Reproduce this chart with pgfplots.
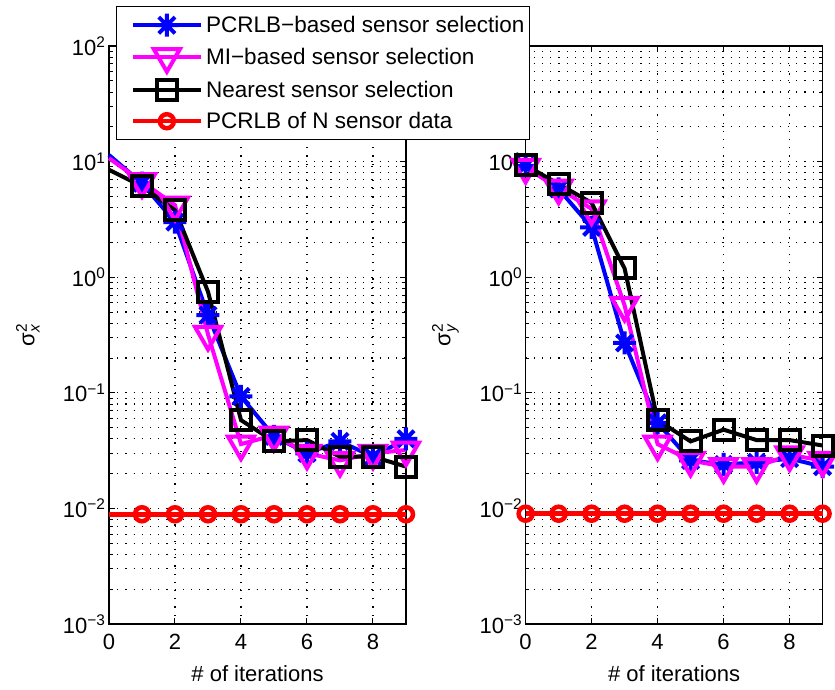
\documentclass[border=0pt]{standalone}
\usepackage{pgfplots}
\pgfplotsset{compat=1.18}
\usepackage{fontspec}
\setmainfont{Liberation Sans}
\usepackage{amsmath}
\usetikzlibrary{plotmarks}
\pgfdeclareplotmark{mstar}{%
 \pgfpathmoveto{\pgfqpoint{0pt}{\pgfplotmarksize}}\pgfpathlineto{\pgfqpoint{0pt}{-\pgfplotmarksize}}%
 \pgfpathmoveto{\pgfqpoint{\pgfplotmarksize}{0pt}}\pgfpathlineto{\pgfqpoint{-\pgfplotmarksize}{0pt}}%
 \pgfpathmoveto{\pgfqpoint{.707\pgfplotmarksize}{.707\pgfplotmarksize}}\pgfpathlineto{\pgfqpoint{-.707\pgfplotmarksize}{-.707\pgfplotmarksize}}%
 \pgfpathmoveto{\pgfqpoint{.707\pgfplotmarksize}{-.707\pgfplotmarksize}}\pgfpathlineto{\pgfqpoint{-.707\pgfplotmarksize}{.707\pgfplotmarksize}}%
 \pgfusepathqstroke}
\definecolor{mblue}{RGB}{0,0,255}
\definecolor{mmag}{RGB}{255,0,255}
\definecolor{mred}{RGB}{255,0,0}
\newcommand{\lbl}{\fontsize{22}{26}\selectfont}
\newcommand{\leg}{\fontsize{22.5}{27}\selectfont}
\pgfplotsset{
 every axis/.append style={
  width=297pt,height=578pt,scale only axis,
  xmin=0,xmax=9,ymin=1e-3,ymax=1e2,
  clip=false,
  xtick={0,2,4,6,8}, xticklabels={0,2,4,6,8},
  ytick={1e-3,1e-2,1e-1,1e0,1e1,1e2},
  yticklabels={10\textsuperscript{−3},10\textsuperscript{−2},10\textsuperscript{−1},10\textsuperscript{0},10\textsuperscript{1},10\textsuperscript{2}},
  minor ytick={2e-3,3e-3,4e-3,5e-3,6e-3,7e-3,8e-3,9e-3,
   2e-2,3e-2,4e-2,5e-2,6e-2,7e-2,8e-2,9e-2,
   2e-1,3e-1,4e-1,5e-1,6e-1,7e-1,8e-1,9e-1,
   2,3,4,5,6,7,8,9,20,30,40,50,60,70,80,90},
  tick align=inside, major tick length=6pt, minor tick length=3.5pt,
  grid=both,
  major grid style={dash pattern=on 1.2pt off 7pt, black, line width=1.1pt},
  minor grid style={dash pattern=on 1.2pt off 7pt, black, line width=1.1pt},
  axis line style={line width=1.2pt},
  tick style={black, line width=1pt},
  ticklabel style={font=\lbl},
  xticklabel style={yshift=-7pt},
  label style={font=\lbl},
  xlabel={\# of iterations},
  xlabel style={yshift=-9pt},
 },
 every axis plot/.append style={line width=4pt},
}
\begin{document}
\begin{tikzpicture}
\path[use as bounding box] (0,0) rectangle (835pt,689pt);
\begin{semilogyaxis}[at={(525.6pt,65pt)}, anchor=south west,
  yticklabels={10\textsuperscript{−3},10\textsuperscript{−2},10\textsuperscript{−1},10\textsuperscript{0},10\textsuperscript{1},{}},
  ylabel={$\text{σ}_{\text{\itshape y}}^{\text{2}}$},
  ylabel style={at={(axis description cs:-0.27,0.5)}, anchor=center}]
\addplot[color=mblue, mark=mstar, mark size=11.5pt, mark options={solid}] coordinates {(0,9.2)(1,5.8)(2,2.7)(3,0.27)(4,0.055)(5,0.026)(6,0.024)(7,0.025)(8,0.027)(9,0.023)};
\addplot[color=mmag, mark=triangle, mark size=15pt, mark options={solid, rotate=180}] coordinates {(0,8.9)(1,5.9)(2,3.9)(3,0.57)(4,0.036)(5,0.026)(6,0.023)(7,0.023)(8,0.029)(9,0.026)};
\addplot[color=black, mark=square, mark size=10pt, mark options={solid}] coordinates {(0,9.3)(1,6.4)(2,4.4)(3,1.19)(4,0.058)(5,0.038)(6,0.048)(7,0.039)(8,0.039)(9,0.035)};
\addplot[color=mred, mark=o, mark size=7pt, mark options={solid}, line width=4.5pt] coordinates {(0,0.009)(1,0.009)(2,0.009)(3,0.009)(4,0.009)(5,0.009)(6,0.009)(7,0.009)(8,0.009)(9,0.009)};
\end{semilogyaxis}
\begin{semilogyaxis}[at={(109pt,65pt)}, anchor=south west,
  ylabel={$\text{σ}_{\text{\itshape x}}^{\text{2}}$},
  ylabel style={at={(axis description cs:-0.273,0.5)}, anchor=center},
  legend style={at={(axis description cs:0.0236,1.069)}, anchor=north west,
    draw=black, line width=1.2pt, fill=white, font=\leg,
    inner xsep=3pt, inner ysep=5pt, row sep=4.5pt,
    nodes={text height=19pt, text depth=4pt},
    /tikz/every even column/.append style={column sep=0pt}},
  legend cell align=left,
  legend image code/.code={\path (0pt,0pt) (80pt,0pt); \draw[#1,mark repeat=2,mark phase=2] plot coordinates {(11pt,0pt) (45pt,0pt) (79pt,0pt)};}]
\addplot[color=mblue, mark=mstar, mark size=11.5pt, mark options={solid}, mark phase=2] coordinates {(0,11.4)(1,6.5)(2,3.0)(3,0.47)(4,0.093)(5,0.042)(6,0.030)(7,0.038)(8,0.028)(9,0.040)};
\addlegendentry{PCRLB−based sensor selection}
\addplot[color=mmag, mark=triangle, mark size=15pt, mark options={solid, rotate=180}, mark phase=2] coordinates {(0,10.7)(1,6.7)(2,4.2)(3,0.32)(4,0.036)(5,0.043)(6,0.030)(7,0.026)(8,0.030)(9,0.032)};
\addlegendentry{MI−based sensor selection}
\addplot[color=black, mark=square, mark size=10pt, mark options={solid}, mark phase=2] coordinates {(0,8.5)(1,6.1)(2,3.8)(3,0.75)(4,0.058)(5,0.038)(6,0.039)(7,0.028)(8,0.028)(9,0.023)};
\addlegendentry{Nearest sensor selection}
\addplot[color=mred, mark=o, mark size=7pt, mark options={solid}, line width=4.5pt, mark phase=2] coordinates {(0,0.0089)(1,0.0089)(2,0.0089)(3,0.0089)(4,0.0089)(5,0.0089)(6,0.0089)(7,0.0089)(8,0.0089)(9,0.0089)};
\addlegendentry{PCRLB of N sensor data}
\end{semilogyaxis}
\end{tikzpicture}
\end{document}
